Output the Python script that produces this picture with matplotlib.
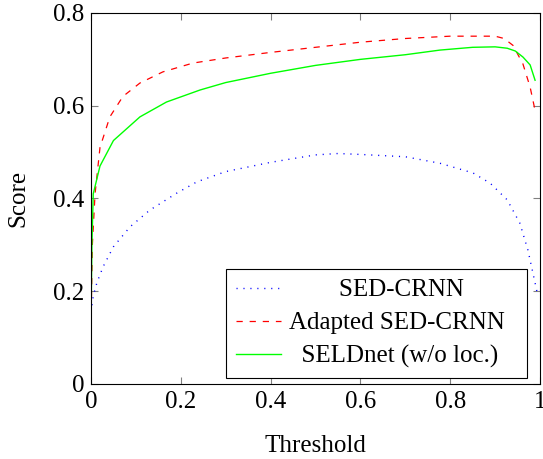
import matplotlib
matplotlib.use("Agg")
import matplotlib.pyplot as plt

plt.rcParams['font.family'] = ['Liberation Serif', 'DejaVu Serif']

# values
sed_x = [0.0, 0.005, 0.013, 0.027, 0.05, 0.087, 0.131, 0.19, 0.236, 0.3, 0.4, 0.5, 0.55,
         0.6, 0.7, 0.777, 0.851, 0.889, 0.927, 0.955, 0.973, 0.989, 0.993]
sed_y = [0.155, 0.19, 0.218, 0.253, 0.296, 0.339, 0.375, 0.411, 0.436, 0.458, 0.478, 0.494, 0.497,
         0.495, 0.49, 0.476, 0.455, 0.433, 0.397, 0.347, 0.289, 0.218, 0.2]

adapted_x = [0.0, 0.003, 0.009, 0.02, 0.042, 0.071, 0.109, 0.16, 0.227, 0.3, 0.4, 0.5, 0.6,
             0.7, 0.8, 0.9, 0.92, 0.94, 0.962, 0.978, 0.989]
adapted_y = [0.13, 0.3, 0.41, 0.51, 0.576, 0.62, 0.649, 0.673, 0.692, 0.703, 0.715, 0.726, 0.737,
             0.745, 0.75, 0.75, 0.745, 0.73, 0.69, 0.64, 0.59]

seld_x = [0.0, 0.002, 0.005, 0.02, 0.05, 0.109, 0.168, 0.243, 0.3, 0.4, 0.5, 0.6,
          0.7, 0.777, 0.85, 0.9, 0.927, 0.945, 0.962, 0.978, 0.989]
seld_y = [0.13, 0.3, 0.41, 0.47, 0.525, 0.576, 0.608, 0.634, 0.65, 0.67, 0.687, 0.7,
          0.71, 0.72, 0.726, 0.727, 0.724, 0.718, 0.705, 0.688, 0.655]

labels = ['SED-CRNN', 'Adapted SED-CRNN', 'SELDnet (w/o loc.)']
xticks = [0, 0.2, 0.4, 0.6, 0.8, 1]
xtick_labels = ['0', '0.2', '0.4', '0.6', '0.8', '1']
yticks = [0, 0.2, 0.4, 0.6, 0.8]
ytick_labels = ['0', '0.2', '0.4', '0.6', '0.8']

fs = 18

fig = plt.figure(figsize=(5.43, 4.59), dpi=100)
ax = fig.add_axes([0.1676, 0.1634, 0.8269, 0.8083])

# leading spaces stand in for pgfplots' centred legend entries
ax.plot(sed_x, sed_y, color='blue', linestyle=(0, (0.8, 4.2)), linewidth=1.0,
        label=' ' * 8 + labels[0] + '  ')
ax.plot(adapted_x, adapted_y, color='red', linestyle=(0, (5, 5.5)), linewidth=0.9,
        label=labels[1] + '  ')
ax.plot(seld_x, seld_y, color='#00ff00', linestyle='-', linewidth=1.0,
        label=' ' * 2 + labels[2] + '  ')

ax.set_xlim(0, 1)
ax.set_ylim(0, 0.8)
ax.set_xticks(xticks)
ax.set_xticklabels(xtick_labels)
ax.set_yticks(yticks)
ax.set_yticklabels(ytick_labels)
ax.tick_params(direction='in', top=True, right=True, length=5, width=0.8,
               color='#808080', labelsize=fs, pad=5)
for s in ax.spines.values():
    s.set_linewidth(0.8)

ax.set_xlabel('Threshold', fontsize=fs, labelpad=16)
ax.set_ylabel('Score', fontsize=fs, labelpad=17)

leg = ax.legend(loc='lower right', bbox_to_anchor=(0.971, 0.016), fontsize=fs,
                frameon=True, fancybox=False, edgecolor='black', framealpha=1,
                handlelength=1.8, handletextpad=0.3, borderpad=0.4,
                labelspacing=0.42, borderaxespad=0)
leg.get_frame().set_linewidth(0.8)

fig.savefig('out.png', dpi=100)
